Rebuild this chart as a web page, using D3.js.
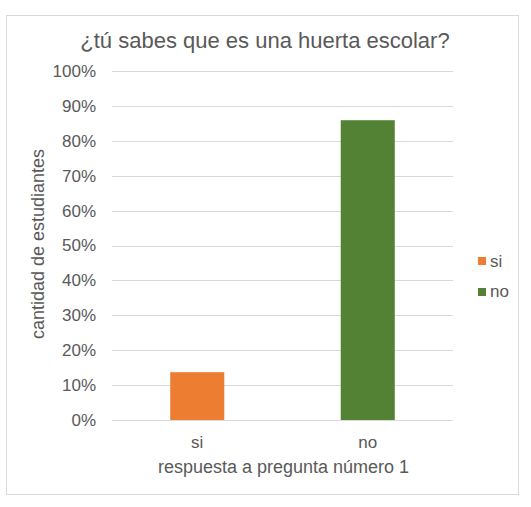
<!DOCTYPE html>
<html>
<head>
<meta charset="utf-8">
<script src="https://cdn.jsdelivr.net/npm/d3@7"></script>
<style>
  body { margin: 0; background: #fff; }
  text { font-family: "Liberation Sans", Arial, sans-serif; fill: #595959; }
</style>
</head>
<body>
<div id="chart"></div>
<script>
const categories = ["si", "no"];
const values = [13.7, 85.9];
const colors = ["#ED7D31", "#548235"];
const yTicks = [0, 10, 20, 30, 40, 50, 60, 70, 80, 90, 100];
const title = "¿tú sabes que es una huerta escolar?";
const xTitle = "respuesta a pregunta número 1";
const yTitle = "cantidad de estudiantes";

const W = 531, H = 507;
const margin = { top: 71, right: 78, bottom: 87, left: 112 };
const width = W - margin.left - margin.right;
const height = H - margin.top - margin.bottom;

const svg = d3.select("#chart")
    .append("svg")
    .attr("width", W)
    .attr("height", H);

svg.append("rect")
    .attr("x", 6.5).attr("y", 15.5)
    .attr("width", 512).attr("height", 479)
    .attr("fill", "#fff")
    .attr("stroke", "#d9d9d9");

svg.append("text")
    .attr("x", 265).attr("y", 48)
    .attr("text-anchor", "middle")
    .style("font-size", "22px")
    .text(title);

const g = svg.append("g")
    .attr("transform", `translate(${margin.left},${margin.top})`);

const x = d3.scaleBand()
    .domain(categories)
    .range([0, width])
    .padding(0);

const y = d3.scaleLinear()
    .domain([0, 100])
    .range([height, 0]);

const barW = x.bandwidth() * 0.317;

g.selectAll(".grid")
    .data(yTicks)
    .enter()
    .append("line")
    .attr("x1", 0).attr("x2", width)
    .attr("y1", d => Math.round(y(d)) + 0.5)
    .attr("y2", d => Math.round(y(d)) + 0.5)
    .attr("stroke", "#d9d9d9")
    .attr("stroke-width", 1);

g.selectAll(".ylab")
    .data(yTicks)
    .enter()
    .append("text")
    .attr("x", -16)
    .attr("y", d => y(d))
    .attr("dy", "0.35em")
    .attr("text-anchor", "end")
    .style("font-size", "17px")
    .text(d => d + "%");

g.selectAll(".bar")
    .data(categories)
    .enter()
    .append("rect")
    .attr("x", d => x(d) + x.bandwidth() / 2 - barW / 2)
    .attr("y", (d, i) => y(values[i]))
    .attr("width", barW)
    .attr("height", (d, i) => y(0) - y(values[i]))
    .attr("fill", (d, i) => colors[i]);

g.selectAll(".xlab")
    .data(categories)
    .enter()
    .append("text")
    .attr("x", d => x(d) + x.bandwidth() / 2)
    .attr("y", height + 28)
    .attr("text-anchor", "middle")
    .style("font-size", "17px")
    .text(d => d);

g.append("text")
    .attr("x", width / 2 + 1)
    .attr("y", height + 53)
    .attr("text-anchor", "middle")
    .style("font-size", "18px")
    .text(xTitle);

svg.append("text")
    .attr("transform", `translate(44,244) rotate(-90)`)
    .attr("text-anchor", "middle")
    .style("font-size", "18px")
    .text(yTitle);

const legend = svg.append("g")
    .attr("transform", "translate(478,257)");

legend.selectAll("rect")
    .data(categories)
    .enter()
    .append("rect")
    .attr("x", 0)
    .attr("y", (d, i) => i * 31)
    .attr("width", 8).attr("height", 8)
    .attr("fill", (d, i) => colors[i]);

legend.selectAll("text")
    .data(categories)
    .enter()
    .append("text")
    .attr("x", 12)
    .attr("y", (d, i) => i * 30 + 4)
    .attr("dy", "0.35em")
    .style("font-size", "17px")
    .text(d => d);
</script>
</body>
</html>
